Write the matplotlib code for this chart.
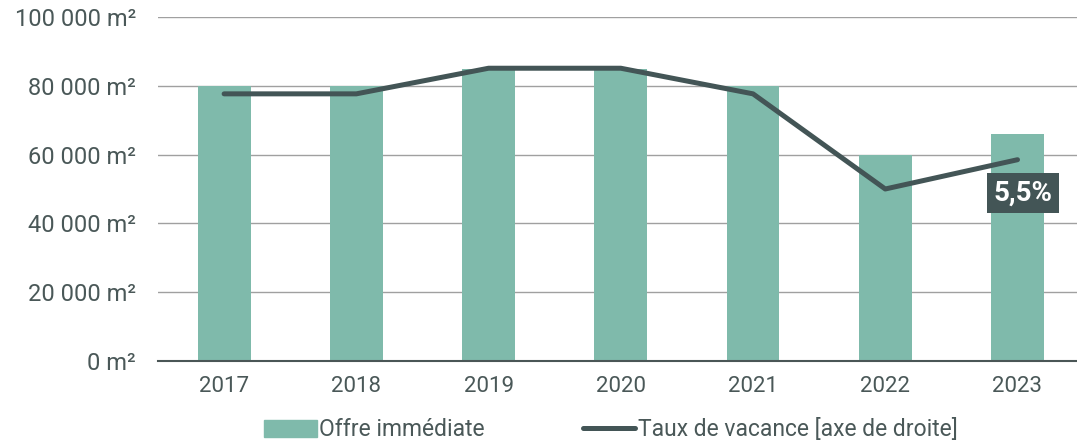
import matplotlib
matplotlib.use("Agg")
import matplotlib.pyplot as plt
from matplotlib.patches import Patch
from matplotlib.lines import Line2D

years = ["2017", "2018", "2019", "2020", "2021", "2022", "2023"]
offre = [80000, 80000, 85000, 85000, 80000, 60000, 66000]
taux = [7.3, 7.3, 8.0, 8.0, 7.3, 4.7, 5.5]
yticks = [0, 20000, 40000, 60000, 80000, 100000]
ytick_labels = ["0 m²", "20 000 m²", "40 000 m²", "60 000 m²", "80 000 m²", "100 000 m²"]
last_label = "5,5%"

bar_color = "#7fbaab"
line_color = "#435556"
text_color = "#4a5858"

plt.rcParams['font.family'] = ['Roboto', 'DejaVu Sans']

fig = plt.figure(figsize=(10.77, 4.45), dpi=100)
ax = fig.add_axes([0.1467, 0.1888, 0.8533, 0.773])
x = list(range(len(years)))
ax.bar(x, offre, width=0.4, color=bar_color, zorder=2)
ax.set_ylim(0, 100000)
ax.set_xlim(-0.5, 6.45)
ax.set_yticks(yticks)
ax.set_yticklabels(ytick_labels)
ax.set_xticks(x)
ax.set_xticklabels(years)
ax.tick_params(axis='both', length=0, labelsize=16, colors=text_color)
ax.tick_params(axis='y', pad=16, labelsize=17)
ax.tick_params(axis='x', pad=11)
ax.grid(axis='y', color='#a0a0a0', linewidth=1, zorder=0)
for s in ['top', 'right', 'left']:
    ax.spines[s].set_visible(False)
ax.spines['bottom'].set_color('#4a5656')
ax.spines['bottom'].set_linewidth(1.5)
ax.spines['bottom'].set_zorder(3)

ax2 = ax.twinx()
ax2.set_ylim(0, 9.4)
ax2.plot(x, taux, color=line_color, linewidth=3.6, solid_capstyle='round', zorder=4)
ax2.set_yticks([])
for s in ax2.spines.values():
    s.set_visible(False)
ax2.annotate(last_label, xy=(x[-1], taux[-1]), xytext=(4, -24), textcoords='offset points',
             ha='center', va='center', fontsize=20, fontweight='bold', color='white',
             bbox=dict(boxstyle='square,pad=0.25', fc=line_color, ec='none'), zorder=5)

leg1 = fig.legend(handles=[Patch(color=bar_color, label='Offre immédiate')],
                  loc='center left', bbox_to_anchor=(0.245, 0.034), frameon=False,
                  fontsize=16.5, handlelength=2.3, handleheight=0.75, handletextpad=0.12,
                  labelcolor=text_color, borderaxespad=0, borderpad=0)
leg2 = fig.legend(handles=[Line2D([], [], color=line_color, linewidth=3.6, solid_capstyle='round',
                                  label='Taux de vacance [axe de droite]')],
                  loc='center left', bbox_to_anchor=(0.541, 0.034), frameon=False,
                  fontsize=16.5, handlelength=2.3, handletextpad=0.12,
                  labelcolor=text_color, borderaxespad=0, borderpad=0)

fig.savefig("out.png", dpi=100)
